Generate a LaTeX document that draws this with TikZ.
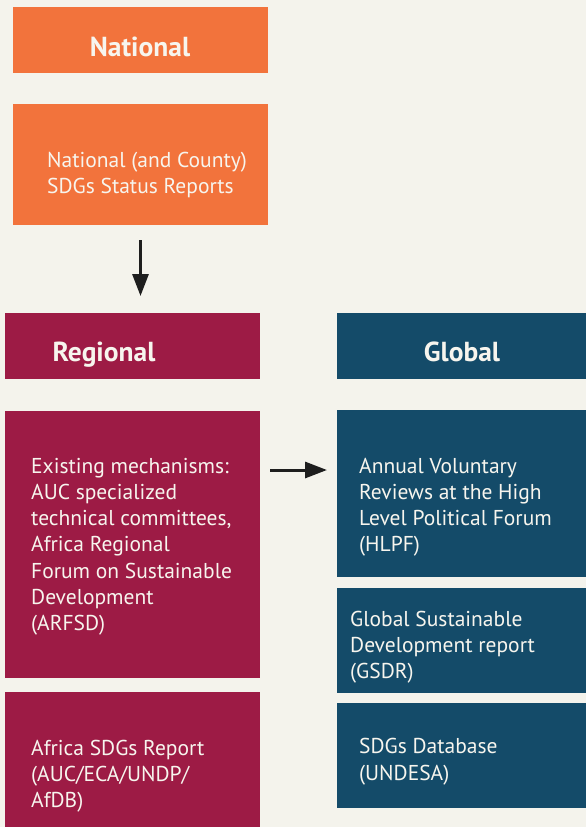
\documentclass[tikz,border=0pt]{standalone}
\usepackage{fontspec}
\setmainfont{PT Sans}
\usetikzlibrary{arrows.meta}
\definecolor{paper}{HTML}{F4F3EC}
\definecolor{natorange}{HTML}{F2733C}
\definecolor{regcrimson}{HTML}{9D1B45}
\definecolor{globblue}{HTML}{144B69}
\definecolor{inktext}{HTML}{F7F5EE}
\definecolor{arrowink}{HTML}{1E1E1E}
\tikzset{
  panel/.style={rectangle, inner sep=0pt, outer sep=0pt, anchor=north west},
  heading/.style={font=\fontsize{27.5}{30}\selectfont\bfseries, text=inktext, inner sep=0pt, anchor=base},
  % multi-line blocks are placed by the baseline of their last line
  body/.style={font=\fontsize{21.5}{26.2}\selectfont, text=inktext, inner sep=0pt, align=left, anchor=base west}
}
\tikzset{flow/.style={draw=arrowink, line width=3pt, -{Triangle[width=16pt,length=22pt]}}}
\begin{document}
\begin{tikzpicture}[x=1pt,y=-1pt]
  \fill[paper] (0,0) rectangle (586,827);
  \useasboundingbox (0,0) rectangle (586,827);

  % National column
  \node[panel, fill=natorange, minimum width=255pt, minimum height=66pt] (nat) at (13,7) {};
  \node[panel, fill=natorange, minimum width=255pt, minimum height=121pt] (natrep) at (13,104) {};
  \node[heading] (natt) at (140,56) {National};
  \node[body] (natrept) at (47,193.2) {National (and County)\\SDGs Status Reports};

  % Regional column
  \node[panel, fill=regcrimson, minimum width=255pt, minimum height=66pt] (reg) at (5,313) {};
  \node[panel, fill=regcrimson, minimum width=255pt, minimum height=267pt] (regmech) at (5,411) {};
  \node[panel, fill=regcrimson, minimum width=255pt, minimum height=136pt] (regrep) at (5,692) {};
  \node[heading] (regt) at (104,361) {Regional};
  \node[body] (regmecht) at (31,630.5) {Existing mechanisms:\\AUC specialized\\technical committees,\\Africa Regional\\Forum on Sustainable\\Development\\(ARFSD)};
  \node[body] (regrept) at (31,807.5) {Africa SDGs Report\\(AUC/ECA/UNDP/\\AfDB)};

  % Global column
  \node[panel, fill=globblue, minimum width=250pt, minimum height=66pt] (glob) at (337,313) {};
  \node[panel, fill=globblue, minimum width=250pt, minimum height=167pt] (hlpf) at (337,410) {};
  \node[panel, fill=globblue, minimum width=250pt, minimum height=105pt] (gsdr) at (337,588) {};
  \node[panel, fill=globblue, minimum width=250pt, minimum height=105pt] (sdgdb) at (337,703) {};
  \node[heading] (globt) at (462,361) {Global};
  \node[body] (hlpft) at (359,551.8) {Annual Voluntary\\Reviews at the High\\Level Political Forum\\(HLPF)};
  \node[body] (gsdrt) at (350,678.5) {Global Sustainable\\Development report\\(GSDR)};
  \node[body] (sdgdbt) at (359,780) {SDGs Database\\(UNDESA)};

  % Flow arrows
  \coordinate (hlevel) at (0,470);
  \draw[flow, shorten <=15pt, shorten >=17pt] (natrep.south) -- (natrep.south |- reg.north);
  \draw[flow, shorten <=10pt, shorten >=10pt] (regmech.east |- hlevel) -- (hlpf.west |- hlevel);
\end{tikzpicture}
\end{document}
